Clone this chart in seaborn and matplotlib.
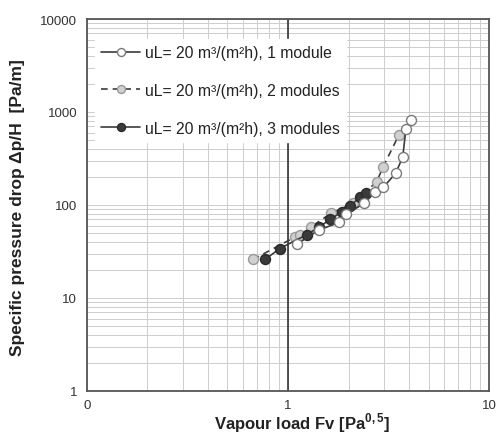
import matplotlib
matplotlib.use("Agg")
import matplotlib.pyplot as plt
import seaborn as sns
from matplotlib.ticker import FixedLocator, FixedFormatter, LogLocator, NullFormatter

# -----------------------------
# Data
# -----------------------------
fv_1 = [1.11, 1.43, 1.80, 1.94, 2.39, 2.71, 2.98, 3.43, 3.72, 3.86, 4.09]
dp_1 = [38, 54, 65, 79, 104, 137, 155, 219, 328, 656, 820]

fv_2 = [0.67, 1.08, 1.15, 1.30, 1.63, 2.11, 2.76, 2.97, 3.56]
dp_2 = [26, 45, 47, 58, 81, 104, 178, 256, 566]

fv_3 = [0.77, 0.91, 1.24, 1.43, 1.62, 1.85, 2.03, 2.28, 2.44]
dp_3 = [26, 34, 48, 58, 70, 84, 97, 121, 135]

labels = ["uL= 20 m³/(m²h), 1 module",
          "uL= 20 m³/(m²h), 2 modules",
          "uL= 20 m³/(m²h), 3 modules"]

x_ticks = [0.1, 1, 10]
x_ticklabels = ["0", "1", "10"]
y_ticks = [1, 10, 100, 1000, 10000]
y_ticklabels = ["1", "10", "100", "1000", "10000"]

# -----------------------------
# Style
# -----------------------------
sns.set_theme(style="white")
plt.rcParams["font.family"] = ["Liberation Sans", "DejaVu Sans"]
plt.rcParams["mathtext.fontset"] = "custom"
plt.rcParams["mathtext.rm"] = "Liberation Sans"
plt.rcParams["mathtext.bf"] = "Liberation Sans:bold"

fig = plt.figure(figsize=(4.97, 4.35), dpi=100)
ax = fig.add_axes([0.175, 0.099, 0.809, 0.855])

ms = 7.2
sns.lineplot(x=fv_1, y=dp_1, ax=ax, sort=False, color="#3c3c3c", lw=1.2,
             marker="o", markersize=ms, markerfacecolor="white",
             markeredgecolor="#7a7a7a", markeredgewidth=1.0,
             label=labels[0], zorder=5)
sns.lineplot(x=fv_2, y=dp_2, ax=ax, sort=False, color="#3c3c3c", lw=1.2,
             linestyle=(0, (4, 3)), marker="o", markersize=ms,
             markerfacecolor="#d0d0d0", markeredgecolor="#9a9a9a",
             markeredgewidth=1.0, label=labels[1], zorder=3)
sns.lineplot(x=fv_3, y=dp_3, ax=ax, sort=False, color="#3c3c3c", lw=1.2,
             marker="o", markersize=ms, markerfacecolor="#3a3a3a",
             markeredgecolor="#2a2a2a", markeredgewidth=1.0,
             label=labels[2], zorder=4)

ax.set_xscale("log")
ax.set_yscale("log")
ax.set_xlim(0.1, 10)
ax.set_ylim(1, 10000)

ax.xaxis.set_major_locator(FixedLocator(x_ticks))
ax.xaxis.set_major_formatter(FixedFormatter(x_ticklabels))
ax.yaxis.set_major_locator(FixedLocator(y_ticks))
ax.yaxis.set_major_formatter(FixedFormatter(y_ticklabels))
ax.xaxis.set_minor_locator(LogLocator(base=10, subs=range(2, 10), numticks=20))
ax.yaxis.set_minor_locator(LogLocator(base=10, subs=range(2, 10), numticks=20))
ax.xaxis.set_minor_formatter(NullFormatter())
ax.yaxis.set_minor_formatter(NullFormatter())

ax.grid(which="both", color="#cdcdcd", lw=0.7)
ax.set_axisbelow(True)
ax.axvline(1, color="#333333", lw=1.2, zorder=2)

ax.tick_params(which="both", length=0, labelsize=9.5, colors="#333333")
ax.tick_params(axis="x", pad=6)
ax.tick_params(axis="y", pad=7)
for s in ax.spines.values():
    s.set_color("#555555")
    s.set_linewidth(1.3)

ax.set_xlabel(r"Vapour load Fv [Pa$^{\mathbf{0,5}}$]", fontsize=12,
              fontweight="bold", color="#222222")
ax.xaxis.set_label_coords(0.535, -0.115)
ax.xaxis.label.set_va("bottom")
ax.set_ylabel("Specific pressure drop Δp/H  [Pa/m]", fontsize=12.5,
              fontweight="bold", color="#222222")
ax.yaxis.set_label_coords(-0.154, 0.497)

leg = ax.legend(loc="upper left", bbox_to_anchor=(0.0, 0.968), fontsize=11.3,
                frameon=True, fancybox=False, framealpha=1, edgecolor="white",
                facecolor="white", handlelength=2.5, handletextpad=0.3,
                labelspacing=1.45, borderpad=0.4, markerscale=0.8)
leg.set_zorder(10)
for t in leg.get_texts():
    t.set_color("#222222")

fig.savefig("out.png", dpi=100)
plt.close(fig)
